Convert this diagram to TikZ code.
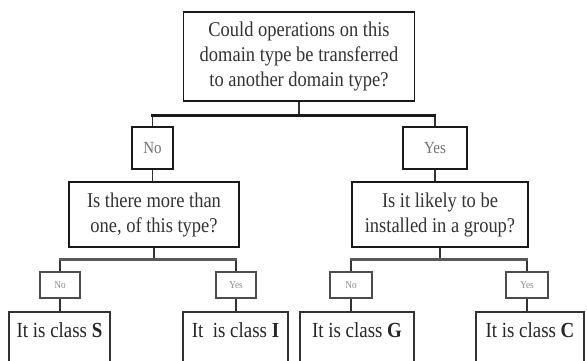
\documentclass[tikz,border=0pt]{standalone}
\usepackage{fontspec}
\setmainfont{Liberation Serif}[FakeStretch=0.88]
\begin{document}
\begin{tikzpicture}[x=1pt,y=-1pt]
\tikzset{
  qbox/.style={draw=black!90, line width=1.6pt, fill=white, align=center,
    inner sep=0pt, text=black!80, font=\fontsize{21}{25}\selectfont},
  ansbig/.style={draw=black!90, line width=1.6pt, fill=white, inner sep=0pt,
    text=black!55, font=\fontsize{17}{20}\selectfont},
  anssmall/.style={draw=black!70, line width=2.6pt, fill=white, inner sep=0pt,
    text=black!45, font=\fontsize{10.5}{12}\selectfont},
  leaf/.style={draw=black!80, line width=1.6pt, fill=white, inner sep=0pt,
    text=black!85, font=\fontsize{21.5}{25}\selectfont,
    text height=26pt, text depth=60pt, anchor=north},
  stem/.style={line width=1.3pt, draw=black!80},
  bar/.style={line width=2.6pt, draw=black!90, line cap=rect},
  bargray/.style={line width=2.8pt, draw=black!65, line cap=rect},
}
\useasboundingbox (0,0) rectangle (587,361);
\fill[white] (0,0) rectangle (587,361);
\clip (0,0) rectangle (587,361);

% question boxes
\node[qbox, minimum width=231pt, minimum height=89pt] (top) at (299,56.5)
  {Could operations on this\\domain type be transferred\\to another domain type?};
\node[qbox, minimum width=170pt, minimum height=65pt] (qL) at (154,214.5)
  {Is there more than\\one, of this type?};
\node[qbox, minimum width=176pt, minimum height=65pt] (qR) at (440,214.5)
  {Is it likely to be\\installed in a group?};

% answers to the first question
\node[ansbig, minimum width=41pt, minimum height=42pt] (n1) at (152.5,148) {No};
\node[ansbig, minimum width=64pt, minimum height=42pt] (y1) at (435,148) {Yes};

% answers to the second-level questions
\node[anssmall, minimum width=40pt, minimum height=26pt] (nL) at (60,285) {No};
\node[anssmall, minimum width=40pt, minimum height=26pt] (yL) at (236,285) {Yes};
\node[anssmall, minimum width=42pt, minimum height=26pt] (nR) at (351,285) {No};
\node[anssmall, minimum width=42pt, minimum height=26pt] (yR) at (527,285) {Yes};

% resulting classes
\node[leaf, minimum width=101pt] (cS) at (59.5,311) {It is class \textbf{S}};
\node[leaf, minimum width=105pt] (cI) at (235.5,311) {It\ \ is class \textbf{I}};
\node[leaf, minimum width=114pt] (cG) at (357,311) {It is class \textbf{G}};
\node[leaf, minimum width=108pt] (cC) at (530,311) {It is class \textbf{C}};

% junction points of the branch bars
\path (top.south) ++(0,14) coordinate (j0);
\path (qL.south) ++(0,12) coordinate (jL);
\path (qR.south) ++(0,12) coordinate (jR);

% first level
\draw[stem] (top.south) -- (j0);
\draw[stem] (n1.north |- j0) -- (n1.north);
\draw[stem] (y1.north |- j0) -- (y1.north);
\draw[bar] (n1.north |- j0) -- (y1.north |- j0);
\draw[stem] (n1.south) -- (n1.south |- qL.north);
\draw[stem] (y1.south) -- (y1.south |- qR.north);

% second level, left
\draw[stem] (qL.south) -- (jL);
\draw[stem] (nL.north |- jL) -- (nL.north);
\draw[stem] (yL.north |- jL) -- (yL.north);
\draw[bargray] (nL.north |- jL) -- (yL.north |- jL);
\draw[stem] (nL.south) -- (nL.south |- cS.north);
\draw[stem] (yL.south) -- (yL.south |- cI.north);

% second level, right
\draw[stem] (qR.south) -- (jR);
\draw[stem] (nR.north |- jR) -- (nR.north);
\draw[stem] (yR.north |- jR) -- (yR.north);
\draw[bargray] (nR.north |- jR) -- (yR.north |- jR);
\draw[stem] (nR.south) -- (nR.south |- cG.north);
\draw[stem] (yR.south) -- (yR.south |- cC.north);
\end{tikzpicture}
\end{document}
